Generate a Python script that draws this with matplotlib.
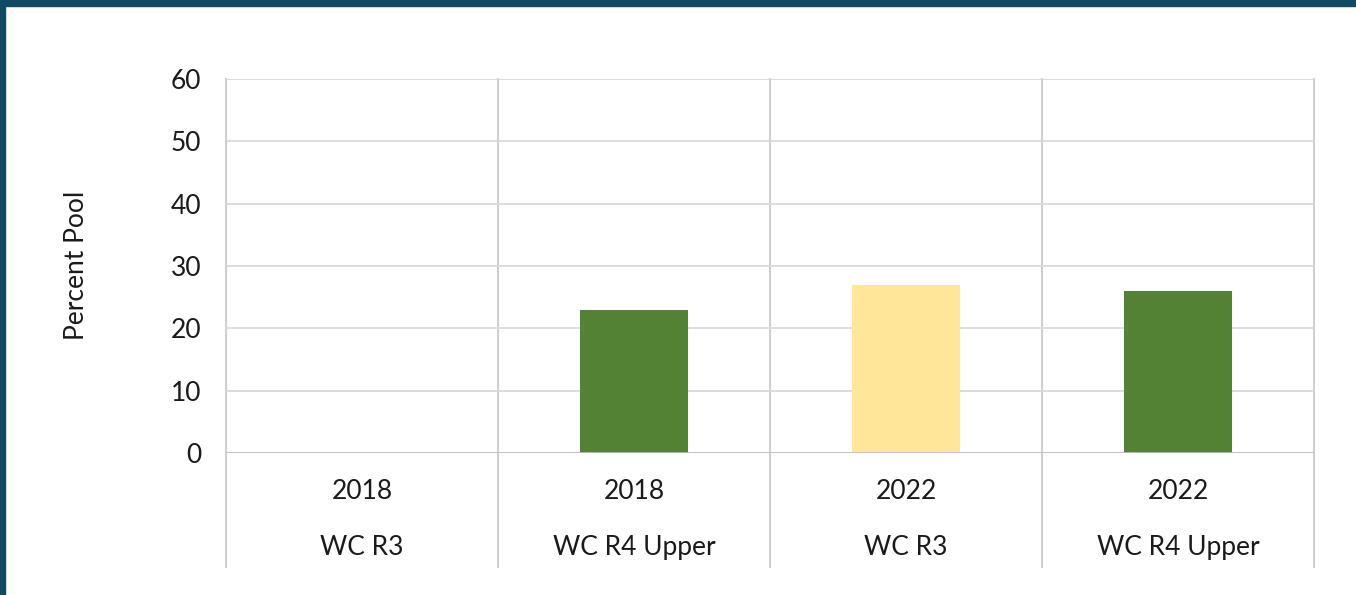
import matplotlib
matplotlib.use("Agg")
from matplotlib import pyplot as plt
from matplotlib.patches import Rectangle
from matplotlib.transforms import blended_transform_factory
import numpy as np

years = ["2018", "2018", "2022", "2022"]
sites = ["WC R3", "WC R4 Upper", "WC R3", "WC R4 Upper"]
percent_pool = [0, 23, 27, 26]
bar_colors = ["#548235", "#548235", "#FFE699", "#548235"]

plt.rcParams["font.family"] = ["Lato", "DejaVu Sans"]
txt = "#1a1a1a"
fs = 19

fig = plt.figure(figsize=(13.56, 5.95), dpi=100)
ax = fig.add_axes([0.1667, 0.2387, 0.8024, 0.6286])

x = np.arange(len(percent_pool))
ax.bar(x, percent_pool, width=0.4, color=bar_colors, zorder=3)

ax.set_xlim(-0.5, len(x) - 0.5)
ax.set_ylim(0, 60)
ax.set_yticks(range(0, 61, 10))
ax.set_xticks([])
ax.tick_params(axis="y", length=0, pad=18, labelsize=fs, labelcolor=txt)
ax.grid(axis="y", color="#d9d9d9", linewidth=1.3, zorder=0)
for s in ax.spines.values():
    s.set_visible(False)
ax.axhline(0, color="#bfbfbf", linewidth=2, zorder=4)

# category separators, running down through the label area
trans = blended_transform_factory(ax.transData, ax.transAxes)
for xs in np.arange(-0.5, len(x), 1.0):
    ax.plot([xs, xs], [-0.305, 1], color="#d0d0d0", linewidth=1.5,
            transform=trans, clip_on=False, zorder=1)

for i in x:
    ax.text(i, -0.104, years[i], transform=trans, ha="center", va="center",
            fontsize=fs, color=txt)
    ax.text(i, -0.254, sites[i], transform=trans, ha="center", va="center",
            fontsize=fs, color=txt)

fig.text(77 / 1356, (595 - 265) / 595, "Percent Pool", rotation=90,
         ha="center", va="center", fontsize=fs, color=txt)

# dark frame at top and left
border = "#134a63"
fig.patches.append(Rectangle((0, 1 - 6 / 595), 1, 6 / 595, transform=fig.transFigure,
                             color=border, zorder=10))
fig.patches.append(Rectangle((0, 0), 5 / 1356, 1, transform=fig.transFigure,
                             color=border, zorder=10))

fig.savefig("out.png", dpi=100)
